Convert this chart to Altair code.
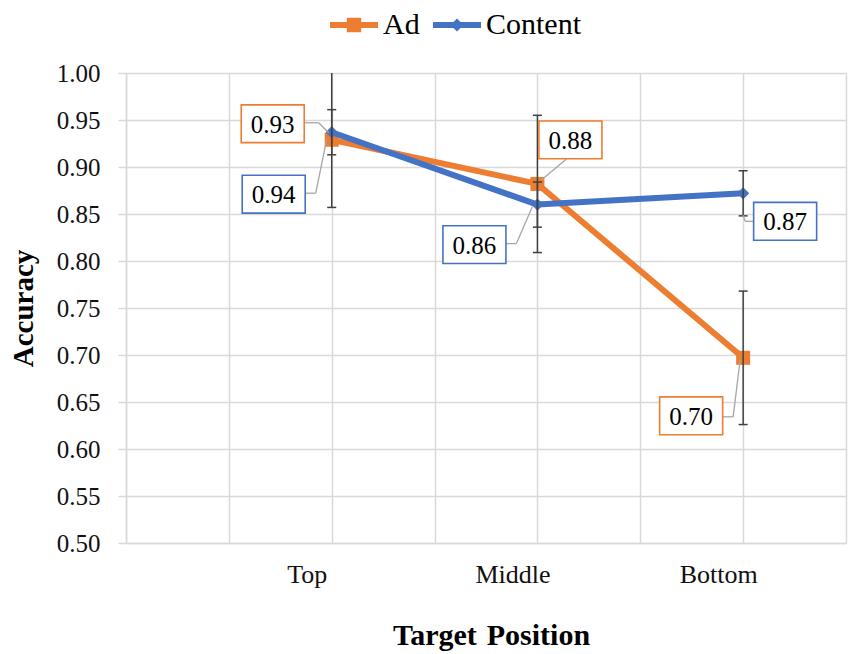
import altair as alt
import pandas as pd

# ---- data ----
categories = ["Top", "Middle", "Bottom"]
category_slot = [2, 4, 6]          # slot of each category on the 0..7 category grid
series_names = ["Ad", "Content"]
ad_acc = [0.929, 0.882, 0.697]
ad_err = [0.072, 0.073, 0.071]
content_acc = [0.937, 0.860, 0.872]
content_err = [0.024, 0.024, 0.024]
y_tick_values = [0.50, 0.55, 0.60, 0.65, 0.70, 0.75, 0.80, 0.85, 0.90, 0.95, 1.00]
x_grid_values = [0, 1, 2, 3, 4, 5, 6, 7]

# ---- styles / layout ----
ORANGE = "#ED7D31"
BLUE = "#4472C4"
GRID = "#d9d9d9"
ERR = "#404040"
LEADER = "#a6a6a6"
FONT = "'Liberation Serif', 'Times New Roman', Times, 'DejaVu Serif', serif"

rows = []
for s, accs, errs in (("Ad", ad_acc, ad_err), ("Content", content_acc, content_err)):
    for i, c in enumerate(categories):
        rows.append(dict(series=s, cat=c, idx=i, xi=category_slot[i], acc=accs[i],
                         lo=accs[i] - errs[i], hi=accs[i] + errs[i]))
df = pd.DataFrame(rows)

label_expr = " : ".join(
    f"datum.value == {p} ? '{c}'" for p, c in zip(category_slot, categories)
) + " : ''"

x_axis = alt.Axis(values=x_grid_values, labelExpr=label_expr, title="Target\u2004Position",
                  grid=True, gridColor=GRID, gridWidth=1.5, ticks=False,
                  domainColor=GRID, domainWidth=1.5, labelOffset=-25, labelPadding=18,
                  labelFont=FONT, labelFontSize=26, labelColor="#111", labelOverlap=False,
                  labelFlush=False, titleFont=FONT, titleFontSize=30, titleFontWeight="bold",
                  titleColor="#000", titleX=365, titleY=92, titleBaseline="middle",
                  titleAlign="center")
y_axis = alt.Axis(values=y_tick_values, format=".2f", title="Accuracy",
                  grid=True, gridColor=GRID, gridWidth=1.5, tickSize=8, tickColor=GRID,
                  tickWidth=1.5, domainColor=GRID, domainWidth=1.5, labelPadding=18,
                  labelFont=FONT, labelFontSize=25, labelColor="#111",
                  titleFont=FONT, titleFontSize=29, titleFontWeight="bold", titleColor="#000",
                  titleAngle=270, titleX=-103, titleY=235, titleAlign="center",
                  titleBaseline="middle")
x_scale = alt.Scale(domain=[0, 7], nice=False, zero=False)
y_scale = alt.Scale(domain=[0.5, 1.0], nice=False, zero=False)

def X(f="xi"):
    return alt.X(f + ":Q", scale=x_scale, axis=x_axis)

def Y(f="acc"):
    return alt.Y(f + ":Q", scale=y_scale, axis=y_axis)

base = alt.Chart(df)

legend_paths = [
    "M-1,-0.125H1V0.125H-1Z M-0.3,-0.3H0.3V0.3H-0.3Z",
    "M-1,-0.125H1V0.125H-1Z M0,-0.27L0.27,0L0,0.27L-0.27,0Z",
]
legend_layer = base.mark_point(filled=True, opacity=1, size=1, strokeWidth=0).encode(
    x=X(), y=Y(),
    color=alt.Color("series:N", scale=alt.Scale(domain=series_names, range=[ORANGE, BLUE]),
                    legend=alt.Legend(title=None, orient="none", direction="horizontal",
                                      legendX=204, legendY=-72, symbolSize=2304,
                                      symbolStrokeWidth=0, labelFont=FONT, labelFontSize=30,
                                      labelColor="#000", labelOffset=5, columnPadding=13,
                                      padding=0, labelLimit=300)),
    shape=alt.Shape("series:N", scale=alt.Scale(domain=series_names, range=legend_paths)),
)

layers = [legend_layer]
marker = {"Ad": dict(shape="square", size=196), "Content": dict(shape="diamond", size=150)}
colors = {"Ad": ORANGE, "Content": BLUE}
for s in series_names:
    sub = base.transform_filter(alt.datum.series == s)
    layers.append(sub.mark_line(color=colors[s], strokeWidth=6, strokeJoin="round",
                                strokeCap="round").encode(x=X(), y=Y()))
    layers.append(sub.mark_point(filled=True, opacity=1, color=colors[s], **marker[s])
                  .encode(x=X(), y=Y()))

# error bars
layers.append(base.mark_rule(color=ERR, strokeWidth=1.5, clip=True).encode(
    x=X(), y=Y("lo"), y2=alt.Y2("hi:Q")))
for f in ("lo", "hi"):
    layers.append(base.mark_tick(orient="horizontal", size=9, thickness=1.5, color=ERR,
                                 opacity=1, clip=True).encode(x=X(), y=Y(f)))

# data labels (pixel offsets from the point: box centre and leader polyline)
label_layout = {
    ("Ad", 0): dict(box=(-59, -16), leader=[(-28, -17), (-13, -17), (-3, -7)]),
    ("Content", 0): dict(box=(-58, 62), leader=[(-26, 61), (-16, 61), (-5, 7)]),
    ("Ad", 1): dict(box=(33, -44), leader=[(29, -25), (4, -4)]),
    ("Content", 1): dict(box=(-63, 40), leader=[(-31, 39), (-21, 39), (-5, 2)]),
    ("Ad", 2): dict(box=(-52, 58), leader=[(-20, 59), (-10, 59), (-3, 2)]),
    ("Content", 2): dict(box=(42, 28), leader=[(11, 28), (2, 28), (0, 22)]),
}
BOX_PATH = "M-1,-0.6H1V0.6H-1Z"
for (s, i), lay in label_layout.items():
    sub = base.transform_filter((alt.datum.series == s) & (alt.datum.idx == i))
    pts = lay["leader"]
    for p, q in zip(pts[:-1], pts[1:]):
        layers.append(sub.mark_rule(color=LEADER, strokeWidth=1.3, xOffset=p[0], yOffset=p[1],
                                    x2Offset=q[0], y2Offset=q[1])
                      .encode(x=X(), y=Y(), x2=alt.X2("xi:Q"), y2=alt.Y2("acc:Q")))
    bx, by = lay["box"]
    layers.append(sub.mark_point(shape=BOX_PATH, size=63 * 63, fill="white", stroke=colors[s],
                                 strokeWidth=1.6, opacity=1, fillOpacity=1, filled=False,
                                 xOffset=bx, yOffset=by).encode(x=X(), y=Y()))
    layers.append(sub.mark_text(font=FONT, fontSize=25, color="#000", align="center",
                                baseline="middle", dx=bx, dy=by + 1)
                  .encode(x=X(), y=Y(), text=alt.Text("acc:Q", format=".2f")))

chart = alt.layer(*layers).properties(
    width=720, height=470,
    autosize=alt.AutoSizeParams(type="none"),
    padding={"left": 118, "top": 65, "right": 3, "bottom": 112},
    background="white",
).configure_view(stroke=None)

chart.save("out.html", embed_options={"renderer": "svg", "actions": False})
